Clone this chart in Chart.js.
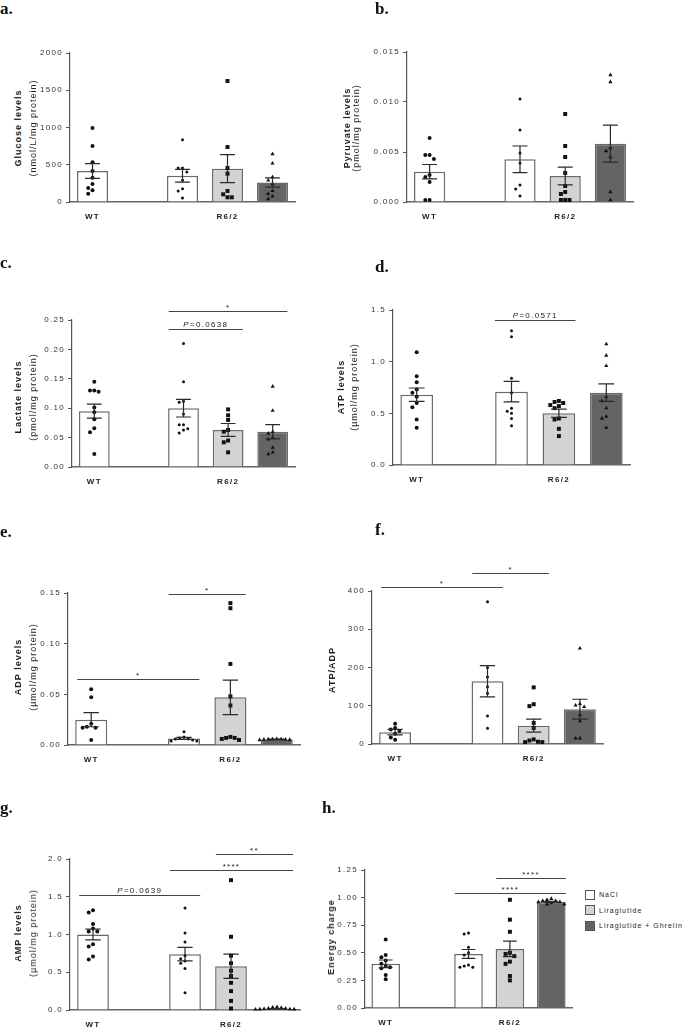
<!DOCTYPE html>
<html>
<head>
<meta charset="utf-8">
<script src="https://cdn.jsdelivr.net/npm/chart.js@4.4.0/dist/chart.umd.min.js"></script>
<style>
  body { margin: 0; background: #fff; width: 685px; height: 1030px; position: relative; overflow: hidden;
         font-family: "Liberation Sans", Arial, sans-serif; }
  canvas { position: absolute; }
  .lett { position: absolute; font-family: "Liberation Serif", "Times New Roman", serif; font-weight: bold;
          font-size: 17px; line-height: 17px; color: #111; }
  .ytit { position: absolute; transform: translate(-50%, -50%) rotate(-90deg); white-space: nowrap;
          font-size: 9px; letter-spacing: 1px; color: #222; }
  .ytit.b { font-weight: bold; }
  .leg { position: absolute; left: 585px; top: 887px; font-size: 7px; letter-spacing: 1px; color: #222; }
  .leg div { height: 15.5px; display: flex; align-items: center; white-space: nowrap; }
  .leg span.box { display: inline-block; width: 8px; height: 8px; border: 1px solid #555; margin-right: 4px; }
</style>
</head>
<body>
<script>
// groups: WT NaCl | R6/2 NaCl | R6/2 Liraglutide | R6/2 Liraglutide + Ghrelin
const legendNames = ['NaCl', 'Liraglutide', 'Liraglutide + Ghrelin'];
const genotypeLabels = ['WT', 'R6/2'];

// a. glucose
const glucoseMean = [416, 353, 447, 262];
const glucoseSem = [100, 85, 188, 63];
const glucosePoints = [
  [993, 752, 532, 416, 327, 242, 188, 157, 112],
  [837, 456, 456, 403, 291, 179, 148, 54],
  [1624, 738, 456, 380, 148, 103, 63, 63],
  [644, 519, 336, 290, 240, 150, 110, 75, 40]
];

// b. pyruvate
const pyruvateMean = [0.00303, 0.00427, 0.0026, 0.00583];
const pyruvateSem = [0.00072, 0.00133, 0.00088, 0.00185];
const pyruvatePoints = [
  [0.0064, 0.0047, 0.0047, 0.0043, 0.0027, 0.0025, 0.0020, 0.0002, 0.0002],
  [0.0103, 0.0072, 0.0049, 0.0039, 0.0017, 0.0013, 0.0006],
  [0.0088, 0.0056, 0.0045, 0.0029, 0.0016, 0.0010, 0.0008, 0.0002, 0.0002, 0.0002],
  [0.0127, 0.0120, 0.0054, 0.0051, 0.0045, 0.0010, 0.0002]
];

// c. lactate
const lactateMean = [0.095, 0.100, 0.063, 0.060];
const lactateSem = [0.012, 0.015, 0.011, 0.012];
const lactatePoints = [
  [0.145, 0.130, 0.128, 0.130, 0.101, 0.093, 0.081, 0.066, 0.059, 0.022],
  [0.210, 0.145, 0.112, 0.110, 0.090, 0.072, 0.072, 0.065, 0.063, 0.058],
  [0.098, 0.088, 0.080, 0.063, 0.060, 0.045, 0.042, 0.025],
  [0.137, 0.096, 0.060, 0.057, 0.050, 0.047, 0.033, 0.025, 0.022]
];

// d. ATP
const atpMean = [0.68, 0.71, 0.50, 0.70];
const atpSem = [0.065, 0.10, 0.04, 0.085];
const atpPoints = [
  [1.09, 0.86, 0.80, 0.73, 0.70, 0.66, 0.60, 0.56, 0.44, 0.36],
  [1.30, 1.24, 0.84, 0.70, 0.55, 0.52, 0.50, 0.45, 0.38],
  [0.62, 0.61, 0.60, 0.58, 0.57, 0.55, 0.45, 0.44, 0.35, 0.28],
  [1.17, 1.06, 0.96, 0.66, 0.62, 0.55, 0.47, 0.45, 0.36]
];

// e. ADP
const adpMean = [0.025, 0.0065, 0.047, 0.0055];
const adpSem = [0.007, 0.001, 0.017, 0.0004];
const adpPoints = [
  [0.055, 0.047, 0.021, 0.018, 0.017, 0.017, 0.005],
  [0.013, 0.008, 0.007, 0.006, 0.006, 0.005, 0.004, 0.004],
  [0.140, 0.135, 0.080, 0.048, 0.039, 0.008, 0.007, 0.006, 0.005, 0.007],
  [0.0060, 0.0058, 0.0055, 0.0050, 0.0057, 0.0052, 0.0055, 0.0058]
];

// f. ATP/ADP
const ratioMean = [31, 164, 48, 91];
const ratioSem = [7, 41, 17, 26];
const ratioPoints = [
  [53, 42, 38, 34, 27, 17, 11],
  [372, 200, 175, 150, 133, 73, 41],
  [148, 104, 99, 55, 42, 12, 9, 5, 5, 6],
  [250, 105, 101, 97, 76, 60, 15, 15]
];

// g. AMP
const ampMean = [1.0, 0.74, 0.58, 0.015];
const ampSem = [0.07, 0.09, 0.16, 0.004];
const ampPoints = [
  [1.32, 1.29, 1.14, 1.08, 1.04, 1.04, 0.87, 0.84, 0.71, 0.67],
  [1.35, 1.02, 0.90, 0.72, 0.68, 0.65, 0.62, 0.55, 0.23],
  [1.72, 0.97, 0.72, 0.62, 0.52, 0.45, 0.36, 0.25, 0.12, 0.02],
  [0.035, 0.030, 0.020, 0.015, 0.010, 0.008, 0.010, 0.012, 0.020, 0.040]
];

// h. energy charge
const chargeMean = [0.40, 0.49, 0.535, 0.96];
const chargeSem = [0.035, 0.04, 0.07, 0.006];
const chargePoints = [
  [0.62, 0.48, 0.46, 0.43, 0.40, 0.38, 0.37, 0.36, 0.30, 0.26],
  [0.68, 0.67, 0.55, 0.50, 0.48, 0.38, 0.37, 0.37, 0.39],
  [0.98, 0.80, 0.69, 0.50, 0.49, 0.47, 0.42, 0.40, 0.29, 0.25],
  [0.99, 0.98, 0.97, 0.97, 0.96, 0.96, 0.95, 0.94, 0.94]
];

const slotOf = [0, 2, 3, 4];
const barFills = ['#ffffff', '#ffffff', '#d3d3d3', '#646464'];
const shapes = [
  { style: 'circle', radius: 2 },
  { style: 'circle', radius: 1.5 },
  { style: 'rect', radius: 2.8 },
  { style: 'triangle', radius: 2.4 }
];

const panels = [
  { letter: 'a.', lx: 0, ly: 13, box: { l: 70, r: 295, t: 53, b: 202 }, ymax: 2000, step: 500, dec: 0,
    title: 'Glucose levels', unit: '(nmol/L/mg protein)', tx: [18, 33], ty: 128,
    mean: glucoseMean, sem: glucoseSem, points: glucosePoints, sig: [] },
  { letter: 'b.', lx: 375, ly: 13, box: { l: 407, r: 633, t: 52, b: 202 }, ymax: 0.015, step: 0.005, dec: 3,
    title: 'Pyruvate levels', unit: '(pmol/mg protein)', tx: [347, 356], ty: 128,
    mean: pyruvateMean, sem: pyruvateSem, points: pyruvatePoints, sig: [] },
  { letter: 'c.', lx: 0, ly: 267, box: { l: 72, r: 295, t: 320, b: 467 }, ymax: 0.25, step: 0.05, dec: 2,
    title: 'Lactate levels', unit: '(pmol/mg protein)', tx: [18, 33], ty: 397,
    mean: lactateMean, sem: lactateSem, points: lactatePoints,
    sig: [{ a: 1.67, b: 4.33, y: 0.266, t: '*' }, { a: 1.67, b: 3.33, y: 0.234, t: 'P=0.0638' }] },
  { letter: 'd.', lx: 375, ly: 271, box: { l: 393, r: 630, t: 310, b: 465 }, ymax: 1.5, step: 0.5, dec: 1,
    title: 'ATP levels', unit: '(µmol/mg protein)', tx: [341, 354], ty: 387,
    mean: atpMean, sem: atpSem, points: atpPoints,
    sig: [{ a: 1.65, b: 3.35, y: 1.40, t: 'P=0.0571' }] },
  { letter: 'e.', lx: 0, ly: 536, box: { l: 68, r: 300, t: 593, b: 745 }, ymax: 0.15, step: 0.05, dec: 2,
    title: 'ADP levels', unit: '(µmol/mg protein)', tx: [18, 33], ty: 667,
    mean: adpMean, sem: adpSem, points: adpPoints,
    sig: [{ a: 1.67, b: 3.33, y: 0.149, t: '*' }, { a: -0.3, b: 2.33, y: 0.065, t: '*' }] },
  { letter: 'f.', lx: 375, ly: 534, box: { l: 372, r: 603, t: 591, b: 744 }, ymax: 400, step: 100, dec: 0,
    title: 'ATP/ADP', unit: null, tx: [332], ty: 670,
    mean: ratioMean, sem: ratioSem, points: ratioPoints,
    sig: [{ a: 1.67, b: 3.33, y: 447, t: '*' }, { a: -0.3, b: 2.33, y: 410, t: '*' }] },
  { letter: 'g.', lx: 0, ly: 812, box: { l: 70, r: 300, t: 859, b: 1010 }, ymax: 2.0, step: 0.5, dec: 1,
    title: 'AMP levels', unit: '(µmol/mg protein)', tx: [18, 33], ty: 933,
    mean: ampMean, sem: ampSem, points: ampPoints,
    sig: [{ a: 2.67, b: 4.35, y: 2.066, t: '**' }, { a: 1.67, b: 4.35, y: 1.854, t: '****' },
          { a: -0.3, b: 2.33, y: 1.523, t: 'P=0.0639' }] },
  { letter: 'h.', lx: 322, ly: 812, box: { l: 365, r: 572, t: 870, b: 1008 }, ymax: 1.25, step: 0.25, dec: 2,
    title: 'Energy charge', unit: null, tx: [331], ty: 937,
    mean: chargeMean, sem: chargeSem, points: chargePoints,
    sig: [{ a: 2.67, b: 4.35, y: 1.177, t: '****' }, { a: 1.67, b: 4.35, y: 1.042, t: '****' }] }
];

// spread points sideways where they would overlap (beeswarm style)
function swarm(values, center, thr, dx) {
  const placed = [];
  values.slice().sort((p, q) => q - p).forEach(v => {
    for (let k = 0; k < 14; k++) {
      const off = (k % 2 ? -1 : 1) * Math.ceil(k / 2) * dx;
      const x = center + off;
      if (!placed.some(q => Math.abs(q.y - v) < thr && Math.abs(q.x - x) < dx * 0.9)) {
        placed.push({ x: x, y: v });
        return;
      }
    }
    placed.push({ x: center, y: v });
  });
  return placed;
}

const spacing = {
  id: 'spacing',
  beforeDraw(chart) { chart.ctx.letterSpacing = '1.3px'; }
};

const errorBars = {
  id: 'errorBars',
  afterDatasetsDraw(chart, args, opts) {
    const ctx = chart.ctx;
    const y = chart.scales.y;
    const meta = chart.getDatasetMeta(chart.data.datasets.length - 1);
    ctx.save();
    ctx.strokeStyle = '#2a2a2a';
    ctx.lineWidth = 1.2;
    meta.data.forEach((bar, i) => {
      const m = opts.mean[i], s = opts.sem[i];
      const y1 = y.getPixelForValue(m + s), y2 = y.getPixelForValue(m - s);
      const hw = bar.width * 0.24;
      ctx.beginPath();
      ctx.moveTo(bar.x, y1); ctx.lineTo(bar.x, y2);
      ctx.moveTo(bar.x - hw, y1); ctx.lineTo(bar.x + hw, y1);
      ctx.moveTo(bar.x - hw, y2); ctx.lineTo(bar.x + hw, y2);
      ctx.stroke();
    });
    ctx.restore();
  }
};

const sigLines = {
  id: 'sigLines',
  afterDraw(chart, args, opts) {
    const ctx = chart.ctx;
    const xs = chart.scales.x, ys = chart.scales.y;
    ctx.save();
    ctx.letterSpacing = '1.3px';
    ctx.strokeStyle = '#444';
    ctx.fillStyle = '#222';
    ctx.lineWidth = 1;
    opts.lines.forEach(s => {
      const x1 = xs.getPixelForValue(s.a), x2 = xs.getPixelForValue(s.b);
      const yy = Math.round(ys.getPixelForValue(s.y)) + 0.5;
      ctx.beginPath(); ctx.moveTo(x1, yy); ctx.lineTo(x2, yy); ctx.stroke();
      const cx = (x1 + x2) / 2;
      ctx.textBaseline = 'alphabetic';
      if (s.t.startsWith('P=')) {
        ctx.font = 'italic 8px "Liberation Sans", Arial';
        const w1 = ctx.measureText('P').width;
        ctx.font = '8px "Liberation Sans", Arial';
        const rest = s.t.slice(1);
        const w2 = ctx.measureText(rest).width;
        let x0 = cx - (w1 + w2) / 2;
        ctx.textAlign = 'left';
        ctx.font = 'italic 8px "Liberation Sans", Arial';
        ctx.fillText('P', x0, yy - 3);
        ctx.font = '8px "Liberation Sans", Arial';
        ctx.fillText(rest, x0 + w1, yy - 3);
      } else {
        ctx.font = '8px "Liberation Sans", Arial';
        ctx.textAlign = 'center';
        ctx.fillText(s.t, cx, yy - 2);
      }
    });
    ctx.restore();
  }
};

function addText(cls, text, css) {
  const d = document.createElement('div');
  d.className = cls;
  d.textContent = text;
  Object.assign(d.style, css);
  document.body.appendChild(d);
}

panels.forEach(p => {
  const { l, r, t, b } = p.box;
  const W = r - l + 48, H = b - t + 70;
  const slotPx = (r - l) / 5;
  const thr = p.ymax * 4.2 / (b - t);
  const dx = 4.3 / slotPx;

  const cv = document.createElement('canvas');
  cv.width = W; cv.height = H;
  cv.style.left = (l - 40) + 'px';
  cv.style.top = (t - 40) + 'px';
  cv.style.width = W + 'px';
  cv.style.height = H + 'px';
  document.body.appendChild(cv);

  const pointSets = p.points.map((vals, g) => ({
    type: 'scatter',
    data: swarm(vals, slotOf[g], thr, dx),
    pointStyle: shapes[g].style,
    pointRadius: shapes[g].radius,
    backgroundColor: '#111',
    borderColor: '#111',
    borderWidth: 0,
    clip: false,
    order: 1
  }));

  const barSet = {
    type: 'bar',
    data: p.mean.map((m, i) => ({ x: slotOf[i], y: m })),
    backgroundColor: barFills,
    borderColor: '#6a6a6a',
    borderWidth: 1.5,
    categoryPercentage: 1,
    barPercentage: 0.69,
    order: 10
  };

  new Chart(cv, {
    type: 'bar',
    data: { datasets: pointSets.concat([barSet]) },
    options: {
      responsive: false,
      animation: false,
      layout: { padding: { left: 4, top: 40, right: 8, bottom: 4 } },
      plugins: {
        legend: { display: false },
        tooltip: { enabled: false },
        errorBars: { mean: p.mean, sem: p.sem },
        sigLines: { lines: p.sig }
      },
      scales: {
        x: {
          type: 'linear', min: -0.5, max: 4.5, offset: false,
          grid: { display: false, drawTicks: false },
          border: { display: true, color: '#666', width: 1.5 },
          afterBuildTicks: s => { s.ticks = [{ value: 0 }, { value: 3 }]; },
          afterFit: s => { s.height = 26; },
          ticks: {
            autoSkip: false, maxRotation: 0, padding: 10, color: '#222',
            font: { family: '"Liberation Sans", Arial', size: 8, weight: 'bold' },
            callback: (v, i) => genotypeLabels[i]
          }
        },
        y: {
          min: 0, max: p.ymax,
          grid: { display: true, drawOnChartArea: false, drawTicks: true, tickLength: 4, color: '#555', lineWidth: 1 },
          border: { display: true, color: '#555', width: 1.2 },
          afterFit: s => { s.width = 36; },
          ticks: {
            stepSize: p.step, padding: 3, color: '#333',
            font: { family: '"Liberation Sans", Arial', size: 8 },
            callback: v => v.toFixed(p.dec)
          }
        }
      }
    },
    plugins: [spacing, errorBars, sigLines]
  });

  addText('lett', p.letter, { left: p.lx + 'px', top: (p.ly - 13) + 'px' });
  addText('ytit b', p.title, { left: p.tx[0] + 'px', top: p.ty + 'px' });
  if (p.unit) addText('ytit', p.unit, { left: p.tx[1] + 'px', top: p.ty + 'px' });
});

// legend for panel h
const leg = document.createElement('div');
leg.className = 'leg';
legendNames.forEach((name, i) => {
  const row = document.createElement('div');
  const box = document.createElement('span');
  box.className = 'box';
  box.style.background = barFills[i + 1];
  row.appendChild(box);
  row.appendChild(document.createTextNode(name));
  leg.appendChild(row);
});
document.body.appendChild(leg);
</script>
</body>
</html>
